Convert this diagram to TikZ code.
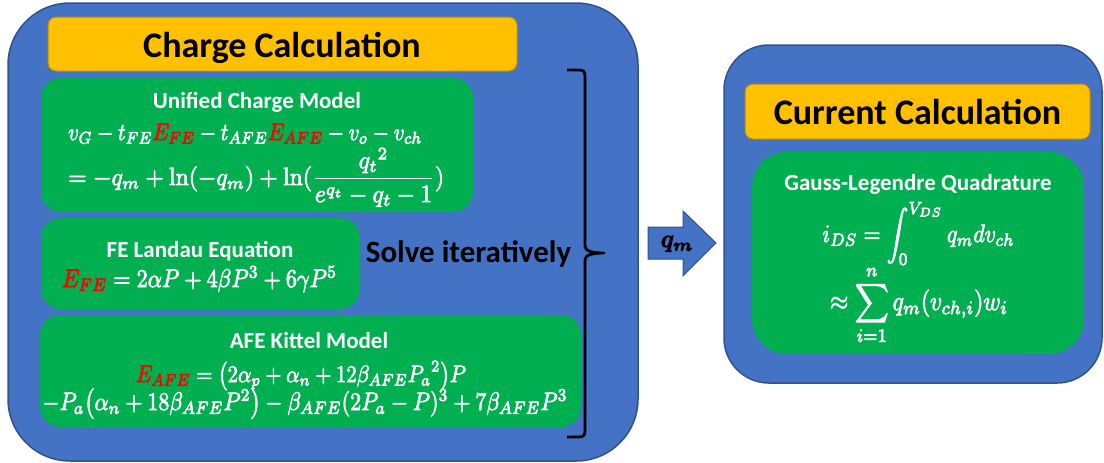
\documentclass[tikz,border=0pt]{standalone}
\usepackage{amsmath}
\usepackage{bm}
\usepackage{graphicx}
\usepackage{fontspec}
\newfontfamily\calib{Carlito}
\definecolor{bfill}{HTML}{4472C4}
\definecolor{bdraw}{HTML}{2F528F}
\definecolor{ofill}{HTML}{FFC000}
\definecolor{odraw}{HTML}{BC8C00}
\definecolor{gfill}{HTML}{00B050}
\definecolor{eqred}{HTML}{FF0000}
\newcommand{\heavy}[1]{\special{pdf:literal direct 2 Tr 0.3 w}#1\special{pdf:literal direct 0 Tr}}
\newcommand{\eqv}[3]{\resizebox{#1pt}{!}{\scalebox{1}[#2]{\heavy{#3}}}}
\newcommand{\eqw}[2]{\eqv{#1}{1.15}{#2}}
\tikzset{
  bluebox/.style={draw=bdraw, line width=1.5pt, fill=bfill, inner sep=0pt},
  orangebox/.style={draw=odraw, line width=1pt, fill=ofill, rounded corners=8pt, inner sep=0pt},
  greenbox/.style={fill=gfill, rounded corners=20pt, inner sep=0pt},
  titletext/.style={font=\calib\bfseries\fontsize{36}{41}\selectfont, text=black, inner sep=0pt, anchor=base},
  subtitle/.style={font=\calib\bfseries\fontsize{23}{27}\selectfont, text=white, inner sep=0pt, anchor=base},
  eqn/.style={text=white, inner sep=0pt},
}
\begin{document}
\begin{tikzpicture}[x=1pt,y=-1pt]
\useasboundingbox (0,0) rectangle (1104,463);
% left big box
\node[bluebox, rounded corners=62pt, minimum width=630pt, minimum height=458pt] (chargebox) at (323,232) {};
\node[orangebox, minimum width=469pt, minimum height=54pt] (chargetitlebox) at (282.5,44) {};
\node[titletext] (chargetitle) at (282,57) {Charge Calculation};
\node[greenbox, minimum width=432pt, minimum height=134pt] (ucm) at (257,145) {};
\node[greenbox, minimum width=319pt, minimum height=91pt] (fel) at (200.5,263.5) {};
\node[greenbox, minimum width=541pt, minimum height=112pt] (afe) at (310.5,371) {};
\node[subtitle] (ucmtitle) at (257,108) {Unified Charge Model};
\node[eqn, anchor=base west] (ucmone) at (68,140) {\eqw{354}{$v_G - t_{FE}\textcolor{eqred}{E_{FE}} - t_{AFE}\textcolor{eqred}{E_{AFE}} - v_o - v_{ch}$}};
\node[eqn, anchor=base west] (ucmtwo) at (68,185) {\eqv{376}{1.05}{$= -q_m + \ln(-q_m) + \ln(\dfrac{{q_t}^2}{e^{q_t} - q_t - 1})$}};
\node[subtitle] (feltitle) at (200,257) {FE Landau Equation};
\node[eqn, anchor=base] (felone) at (199.5,287) {\eqw{275}{$\textcolor{eqred}{E_{FE}} = 2\alpha P + 4\beta P^3 + 6\gamma P^5$}};
\node[subtitle] (afetitle) at (309,348) {AFE Kittel Model};
\node[eqn, anchor=base] (afeone) at (301,382) {\eqw{330}{$\textcolor{eqred}{E_{AFE}} = \bigl(2\alpha_p + \alpha_n + 12\beta_{AFE}{P_a}^2\bigr)P$}};
\node[eqn, anchor=base] (afetwo) at (305,410) {\eqw{525}{$-P_a\bigl(\alpha_n + 18\beta_{AFE}P^2\bigr) - \beta_{AFE}(2P_a - P)^3 + 7\beta_{AFE}P^3$}};
\node[font=\calib\bfseries\fontsize{31}{36}\selectfont, text=black, anchor=base, inner sep=0pt] (solve) at (468.5,262) {Solve iteratively};
% brace
\draw[line width=2.8pt, line join=round, line cap=butt] (567,70) -- (579,70) .. controls (584,70) and (585,72) .. (585,77) -- (585,246) .. controls (585,251) and (592,253) .. (604,253) .. controls (592,253) and (585,255) .. (585,260) -- (585,430) .. controls (585,435) and (584,437) .. (579,437) -- (567,437);
% arrow
\draw[draw=bdraw, line width=1pt, fill=bfill] (648,227) -- (683,227) -- (683,211) -- (716,243) -- (683,276) -- (683,259) -- (648,259) -- cycle;
\node[anchor=base, inner sep=0pt] (qm) at (677,247) {\scalebox{2.3}[2.5]{\heavy{$\bm{q_m}$}}};
% right big box
\node[bluebox, rounded corners=45pt, minimum width=378pt, minimum height=338pt] (currentbox) at (913,214) {};
\node[orangebox, minimum width=345pt, minimum height=55pt] (currenttitlebox) at (917.5,111.5) {};
\node[titletext] (currenttitle) at (917.5,124) {Current Calculation};
\node[greenbox, rounded corners=35pt, minimum width=332pt, minimum height=202pt] (glq) at (918,253) {};
\node[subtitle] (glqtitle) at (918,190) {Gauss-Legendre Quadrature};
\node[eqn, anchor=base] (glqone) at (918.5,242) {\eqw{192}{$\displaystyle i_{DS} = \int_0^{V_{DS}} q_m dv_{ch}$}};
\node[eqn, anchor=base] (glqtwo) at (919,310) {\eqw{178}{$\displaystyle \approx \sum_{i=1}^{n} q_m(v_{ch,i})w_i$}};
\end{tikzpicture}
\end{document}
